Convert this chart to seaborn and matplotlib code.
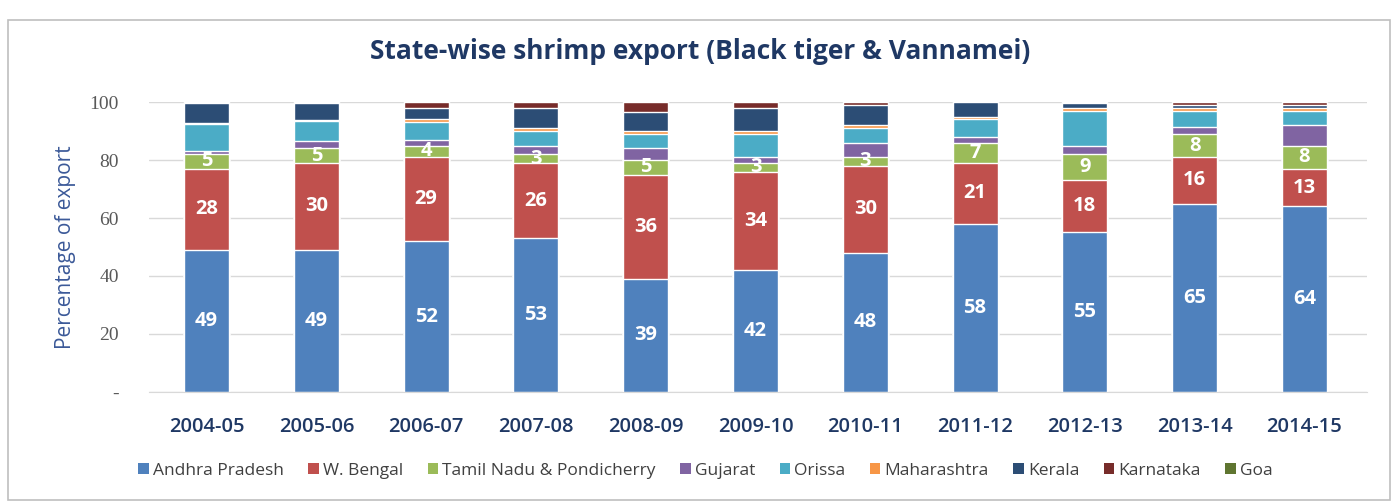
import numpy as np
import pandas as pd
import matplotlib
matplotlib.use("Agg")
import matplotlib.pyplot as plt
from matplotlib.patches import Patch, Rectangle
import seaborn as sns

years = ["2004-05", "2005-06", "2006-07", "2007-08", "2008-09", "2009-10",
         "2010-11", "2011-12", "2012-13", "2013-14", "2014-15"]
states = ["Andhra Pradesh", "W. Bengal", "Tamil Nadu & Pondicherry", "Gujarat",
          "Orissa", "Maharashtra", "Kerala", "Karnataka", "Goa"]

andhra      = [49, 49, 52, 53, 39, 42, 48, 58, 55, 65, 64]
w_bengal    = [28, 30, 29, 26, 36, 34, 30, 21, 18, 16, 13]
tamil_nadu  = [5, 5, 4, 3, 5, 3, 3, 7, 9, 8, 8]
gujarat     = [1, 2.5, 2, 3, 4, 2, 5, 2, 3, 2.5, 7]
orissa      = [9.5, 7, 6, 5, 5, 8, 5, 6, 12, 5.5, 5]
maharashtra = [0.3, 0.3, 1, 1, 1, 1, 1, 1, 1, 1, 1]
kerala      = [7, 5.7, 4, 7, 6.5, 8, 7, 5, 1.5, 1, 1]
karnataka   = [0.2, 0.5, 2, 2, 3.5, 2, 1, 0, 0.5, 1, 1]
goa         = [0, 0, 0, 0, 0, 0, 0, 0, 0, 0, 0]

series = [andhra, w_bengal, tamil_nadu, gujarat, orissa, maharashtra, kerala, karnataka, goa]
colors = ["#4F81BD", "#C0504D", "#9BBB59", "#8064A2", "#4BACC6",
          "#F79646", "#2C4D75", "#772C2A", "#5F7530"]
labelled = {0, 1, 2}

df = pd.DataFrame({"year": years})
for name, vals in zip(states, series):
    df[name] = vals
cum = df[states].cumsum(axis=1)

sns.set_style("white")
fig = plt.figure(figsize=(13.97, 5.03), dpi=100)
ax = fig.add_axes([0.107, 0.2207, 0.8715, 0.5765])

# draw cumulative layers from top to bottom
for i in range(len(states) - 1, -1, -1):
    sns.barplot(x=df["year"], y=cum[states[i]], color=colors[i], width=0.41,
                saturation=1, ax=ax, zorder=2, order=years)

# data labels
for i in labelled:
    for j, y in enumerate(years):
        v = df[states[i]][j]
        bottom = cum[states[i]][j] - v
        ax.text(j, bottom + v / 2, f"{v:g}", ha="center", va="center",
                color="white", fontsize=14.5, fontweight="bold", family="Open Sans",
                zorder=5)

ax.set_ylim(0, 100)
ax.set_xlim(-0.52, 10.57)
ax.set_yticks([0, 20, 40, 60, 80, 100])
ax.set_yticklabels(["-", "20", "40", "60", "80", "100"], family="Liberation Serif",
                   fontsize=14, color="#595959")
ax.set_xticks(range(len(years)))
ax.set_xticklabels(years, family="Open Sans", fontsize=14.5, color="#1F3864",
                   fontweight="semibold")
ax.tick_params(axis="x", length=0, pad=18)
ax.tick_params(axis="y", length=0, pad=22)
ax.grid(axis="y", color="#D9D9D9", linewidth=1, zorder=0)
ax.set_axisbelow(True)
for s in ax.spines.values():
    s.set_visible(False)
ax.spines["bottom"].set_visible(True)
ax.spines["bottom"].set_color("#D9D9D9")
ax.set_xlabel("")
ax.set_ylabel("Percentage of export", family="Open Sans", fontsize=15,
              color="#3B5998", labelpad=10)

fig.text(0.501, 0.897, "State-wise shrimp export (Black tiger & Vannamei)",
         ha="center", va="center", family="Open Sans", fontsize=19,
         fontweight="bold", color="#1F3864")

handles = [Patch(facecolor=c, edgecolor="none") for c in colors]
fig.legend(handles, states, loc="center", bbox_to_anchor=(0.505, 0.064), ncol=9,
           frameon=False, prop={"family": "Open Sans", "size": 12.5},
           handlelength=0.6, handleheight=0.6, handletextpad=0.25,
           columnspacing=1.4, labelcolor="#404040")

fig.patches.append(Rectangle((0.006, 0.006), 0.989, 0.955, transform=fig.transFigure,
                             fill=False, edgecolor="#BFBFBF", linewidth=1.2))

fig.savefig("out.png", dpi=100)
